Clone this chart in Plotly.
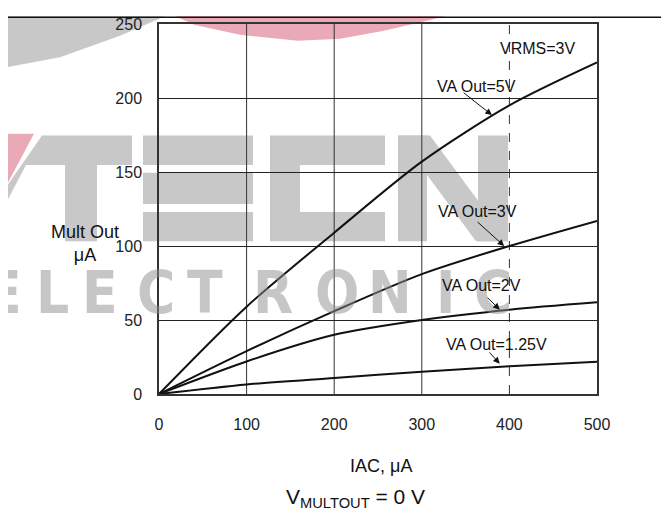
import plotly.graph_objects as go

# ---------------- data ----------------
iac = [0, 100, 200, 300, 400, 500]
va_5v = [0, 59, 109, 157, 195, 224]
va_3v = [0, 29, 56, 81, 100, 117]
va_2v = [0, 22, 40, 50, 57, 62]
va_125v = [0, 6.5, 10.8, 15, 18.7, 21.8]

x_ticks = [0, 100, 200, 300, 400, 500]
y_ticks = [0, 50, 100, 150, 200, 250]

# label: text, text x, text y, arrow tail x, arrow tail y, arrow tip x, arrow tip y (data units)
labels = [
    ("VA Out=5V", 362, 208, 346, 204.4, 380, 188.5),
    ("VA Out=3V", 364, 123, 362, 117.1, 394, 100),
    ("VA Out=2V", 367.6, 73.4, 373.3, 66.1, 389, 57),
    ("VA Out=1.25V", 384.7, 33.7, 375.6, 29.1, 389, 20.5),
]

# page has an 8px body margin: the figure starts at page (8, 8)
OFF = 8
PAGE_W, PAGE_H = 669, 523
L, R, T, B = 159, 72, 16, 129          # in page pixels
W, H = PAGE_W - OFF, PAGE_H - OFF
PW, PH = PAGE_W - L - R, PAGE_H - T - B


def px(x):
    return (x - L) / PW


def py(y):
    return (PAGE_H - B - y) / PH


fig = go.Figure()
for ys in [va_5v, va_3v, va_2v, va_125v]:
    fig.add_trace(go.Scatter(x=iac, y=ys, mode="lines",
                             line=dict(color="#111111", width=2, shape="spline", smoothing=0.8),
                             showlegend=False, hoverinfo="skip"))

shapes = []
# ---- watermark (logo) ----
GREY = "#c8c8c8"
PINK = "#eaa9b6"


def poly(pts, color):
    d = "M " + " L ".join(f"{px(a):.4f},{py(b):.4f}" for a, b in pts) + " Z"
    return dict(type="path", path=d, xref="paper", yref="paper",
                fillcolor=color, line=dict(width=0), layer="below")


shapes += [
    poly([(175, 8), (195, 17), (240, 27), (298, 33), (340, 31), (384, 23), (430, 12), (445, 8)], PINK),
    poly([(8, 8), (8, 60), (60, 50), (120, 28), (165, 8)], GREY),
    poly([(8, 128), (34, 128), (8, 178)], PINK),
    poly([(42, 130), (132, 130), (132, 160), (97, 160), (97, 238), (65, 238), (65, 160), (26, 160),
          (8, 195), (8, 180)], GREY),
    # E
    poly([(143, 130), (253, 130), (253, 160), (143, 160)], GREY),
    poly([(143, 168), (253, 168), (253, 200), (143, 200)], GREY),
    poly([(143, 208), (253, 208), (253, 238), (143, 238)], GREY),
    # C
    poly([(270, 130), (385, 130), (385, 160), (300, 160), (300, 208), (385, 208), (385, 238), (270, 238)], GREY),
    # N
    poly([(398, 130), (427, 130), (427, 238), (398, 238)], GREY),
    poly([(478, 130), (508, 130), (508, 238), (478, 238)], GREY),
    poly([(398, 130), (430, 130), (508, 238), (476, 238)], GREY),
]

# grid lines (vertical), 400 line appears dashed
for xv in x_ticks[1:-1]:
    shapes.append(dict(type="line", xref="x", yref="paper", x0=xv, x1=xv, y0=0, y1=1,
                       line=dict(color="#333333", width=1, dash="dash" if xv == 400 else "solid"),
                       layer="below"))
# page frame lines
shapes.append(dict(type="line", xref="paper", yref="paper", x0=px(8), x1=px(663), y0=py(9), y1=py(9),
                   line=dict(color="#111111", width=1.5)))
shapes.append(dict(type="line", xref="paper", yref="paper", x0=px(663), x1=px(663), y0=py(9), y1=py(530),
                   line=dict(color="#111111", width=1.5)))

annotations = []
# ELECTRONIC watermark letters
letters = list("ELECTRONIC")
letter_x = [4, 52, 100, 156, 205, 273, 337, 390, 445, 493]
for ch, lx in zip(letters, letter_x):
    annotations.append(dict(text=f"<b>{ch}</b>", x=px(lx), y=py(291), xref="paper", yref="paper",
                            showarrow=False, xanchor="center", yanchor="middle",
                            font=dict(family="DejaVu Sans Condensed, DejaVu Sans", size=58,
                                      color="#8f8f8f"), opacity=0.5))

FONT = "Liberation Sans, Arial, Helvetica, sans-serif"
annotations.append(dict(text="VRMS=3V", x=432.6, y=233.5, xref="x", yref="y", showarrow=False,
                        font=dict(family=FONT, size=16, color="#111111")))
for txt, lx, ly, ax_, ay_, tx, ty in labels:
    annotations.append(dict(text=txt, x=lx, y=ly, xref="x", yref="y", showarrow=False,
                            font=dict(family=FONT, size=16, color="#111111")))
    annotations.append(dict(text="", x=tx, y=ty, xref="x", yref="y", showarrow=True,
                            axref="x", ayref="y", ax=ax_, ay=ay_,
                            arrowhead=2, arrowsize=1.3, arrowwidth=1, arrowcolor="#111111",
                            standoff=0, startstandoff=0))

annotations.append(dict(text="Mult Out<br>μA", x=px(85), y=py(240), xref="paper", yref="paper",
                        showarrow=False, xanchor="center", yanchor="middle", align="center",
                        font=dict(family=FONT, size=18, color="#111111")))
annotations.append(dict(text="IAC, μA", x=px(381), y=py(468), xref="paper", yref="paper",
                        showarrow=False, xanchor="center", yanchor="middle",
                        font=dict(family=FONT, size=18, color="#111111")))
annotations.append(dict(text="V<sub>MULTOUT</sub> = 0 V", x=px(355), y=py(500), xref="paper", yref="paper",
                        showarrow=False, xanchor="center", yanchor="middle",
                        font=dict(family=FONT, size=21, color="#111111")))

fig.update_layout(
    width=W, height=H, autosize=False,
    margin=dict(l=L - OFF, r=R, t=T - OFF, b=B),
    paper_bgcolor="white", plot_bgcolor="rgba(0,0,0,0)",
    shapes=shapes, annotations=annotations,
    xaxis=dict(range=[0, 500], tickvals=x_ticks, showgrid=False, zeroline=False,
               showline=True, linecolor="#333333", linewidth=1.5, mirror=True,
               ticks="", ticklabelstandoff=15,
               tickfont=dict(family=FONT, size=16, color="#222222")),
    yaxis=dict(range=[0, 250], tickvals=y_ticks, showgrid=True, gridcolor="#222222", gridwidth=1,
               zeroline=False, showline=True, linecolor="#333333", linewidth=1.5, mirror=True,
               ticks="", ticklabelstandoff=12,
               tickfont=dict(family=FONT, size=16, color="#222222")),
)

fig.write_html("out.html")
